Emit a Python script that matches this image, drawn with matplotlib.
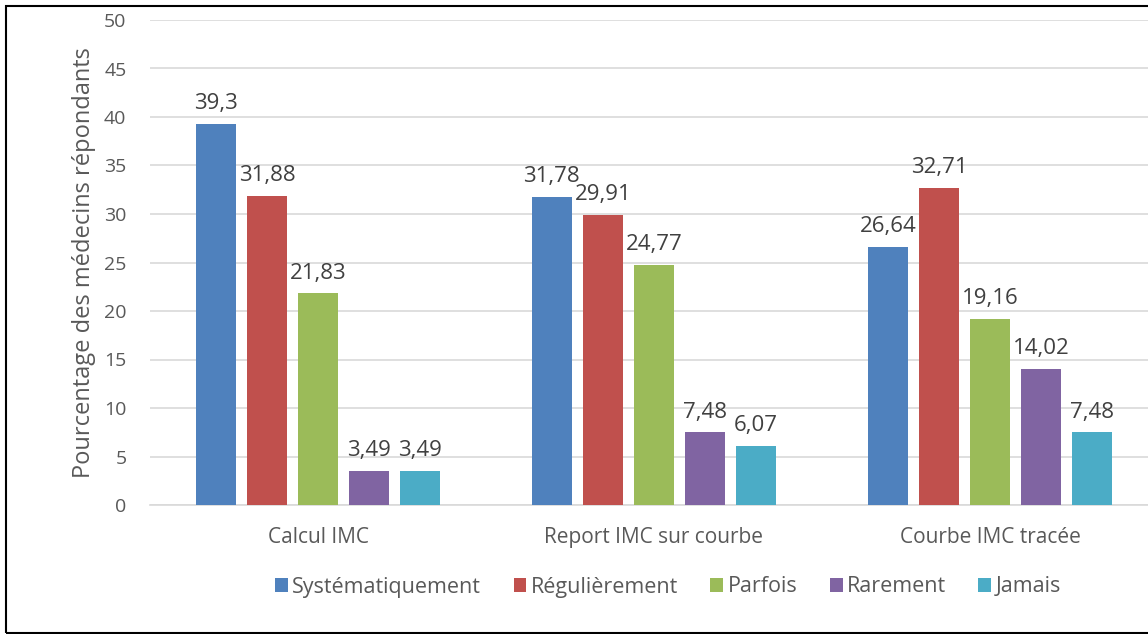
import matplotlib
matplotlib.use("Agg")
import matplotlib.pyplot as plt
from matplotlib.patches import Rectangle
import numpy as np

plt.rcParams['font.family'] = ['Open Sans', 'DejaVu Sans']

categories = ["Calcul IMC", "Report IMC sur courbe", "Courbe IMC tracée"]
series_names = ["Systématiquement", "Régulièrement", "Parfois", "Rarement", "Jamais"]
systematiquement = [39.3, 31.78, 26.64]
regulierement = [31.88, 29.91, 32.71]
parfois = [21.83, 24.77, 19.16]
rarement = [3.49, 7.48, 14.02]
jamais = [3.49, 6.07, 7.48]
yticks = [0, 5, 10, 15, 20, 25, 30, 35, 40, 45, 50]

series = [systematiquement, regulierement, parfois, rarement, jamais]
colors = ["#4F81BD", "#C0504D", "#9BBB59", "#8064A2", "#4BACC6"]
text_color = "#595959"

W, H = 1148, 634
fig = plt.figure(figsize=(W / 100, H / 100), dpi=100)
ax = fig.add_axes([150 / W, 1 - 505 / H, (1148 - 150) / W, (505 - 20) / H])

x = np.arange(len(categories))
bar_w = 0.119
pitch = 0.152
for i, (name, vals, c) in enumerate(zip(series_names, series, colors)):
    pos = x + (i - 2) * pitch
    bars = ax.bar(pos, vals, width=bar_w, color=c, label=name, zorder=3)
    for b, v in zip(bars, vals):
        ax.annotate(f"{v:g}".replace(".", ","),
                    (b.get_x() + b.get_width() / 2, v),
                    xytext=(0, 7), textcoords="offset points",
                    ha="center", va="bottom", fontsize=16, color="#404040")

ax.set_ylim(0, 50)
ax.set_xlim(-0.5, -0.5 + (1148 - 150) / 336)
ax.set_yticks(yticks)
ax.set_yticklabels([str(t) for t in yticks])
ax.set_xticks(x)
ax.set_xticklabels(categories)
ax.yaxis.grid(True, color="#D9D9D9", linewidth=1.2, zorder=0)
ax.set_axisbelow(True)
for s in ["top", "right", "left"]:
    ax.spines[s].set_visible(False)
ax.spines["bottom"].set_color("#D9D9D9")
ax.spines["bottom"].set_linewidth(1.2)
ax.tick_params(axis="both", length=0, labelsize=14, colors=text_color)
ax.tick_params(axis="x", labelsize=15, pad=16)
ax.tick_params(axis="y", pad=17)
ax.set_ylabel("Pourcentage des médecins répondants", fontsize=17,
              color=text_color, labelpad=6)

ax.legend(loc="center", bbox_to_anchor=(668 / W, 1 - 587 / H),
          bbox_transform=fig.transFigure, ncol=5, frameon=False,
          fontsize=15.5, labelcolor=text_color, handlelength=0.6,
          handleheight=0.6, handletextpad=0.2, columnspacing=1.5)

# Chart frame
fig.patches.append(Rectangle((6 / W, 1 / H), 1.2, 1 - 7 / H,
                             transform=fig.transFigure, fill=False,
                             edgecolor="black", linewidth=1.5))

fig.savefig("out.png", dpi=100)
